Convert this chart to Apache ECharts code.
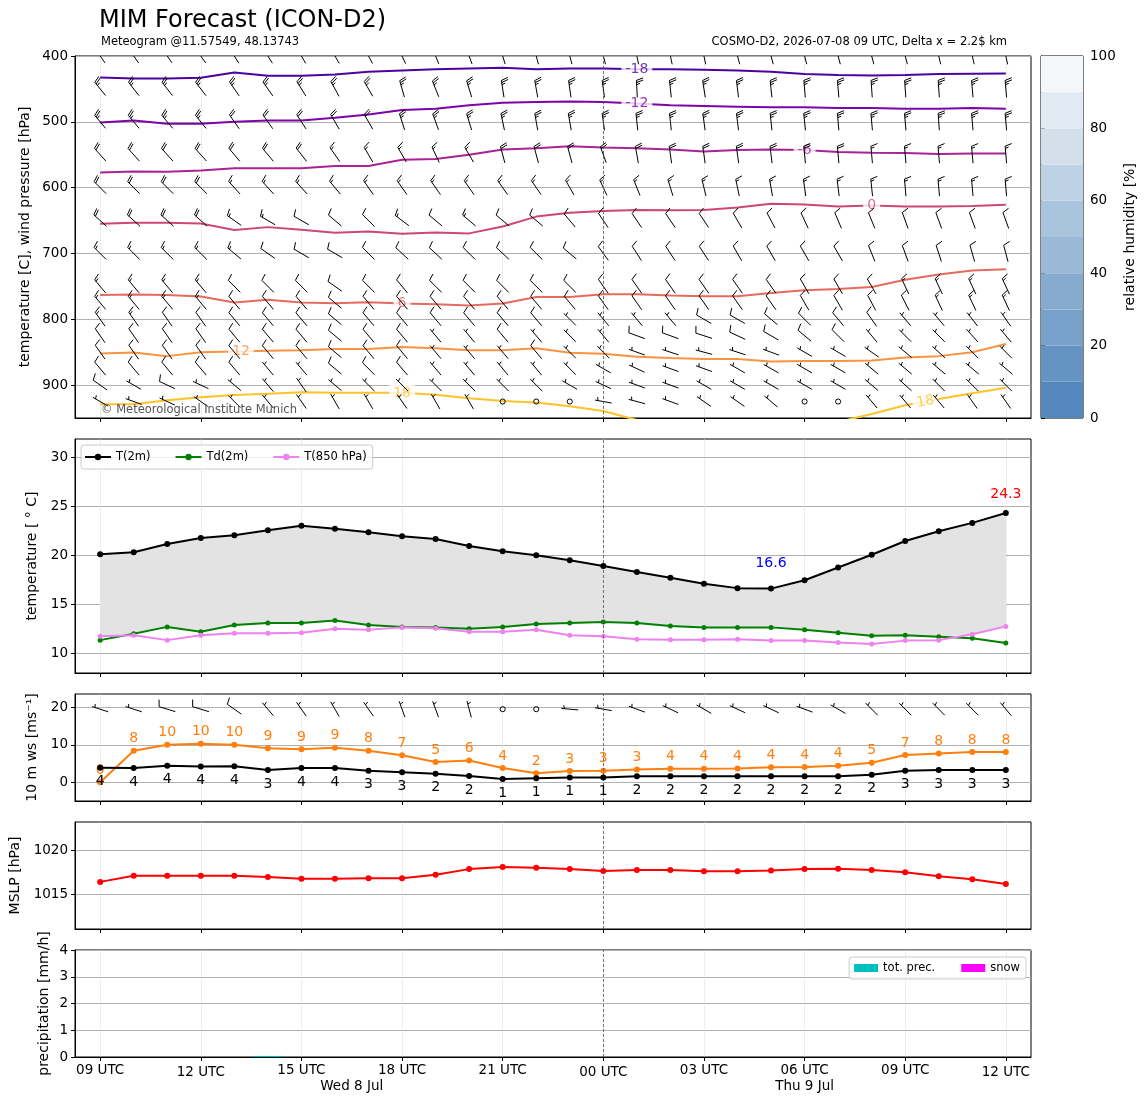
<!DOCTYPE html>
<html><head><meta charset="utf-8">
<script src="https://cdn.jsdelivr.net/npm/echarts@6/dist/echarts.min.js"></script>
<style>html,body{margin:0;padding:0;background:#fff}#c{width:1148px;height:1105px}</style>
</head><body><div id="c"></div>
<script>
// ---------------- data ----------------
const hourOfDay = [9,10,11,12,13,14,15,16,17,18,19,20,21,22,23,0,1,2,3,4,5,6,7,8,9,10,11,12];
const tickIdx = [0,3,6,9,12,15,18,21,24,27];
const dayLabelPos = [7.5, 21];
const dayLabels = ['Wed 8 Jul', 'Thu 9 Jul'];

const t2m  = [20.1,20.3,21.15,21.75,22.05,22.55,23.0,22.7,22.35,21.95,21.65,20.95,20.4,20.0,19.5,18.9,18.3,17.7,17.1,16.65,16.6,17.45,18.75,20.05,21.45,22.45,23.3,24.3];
const td2m = [11.35,12.0,12.7,12.2,12.9,13.1,13.1,13.35,12.9,12.7,12.65,12.5,12.7,13.0,13.1,13.2,13.1,12.8,12.65,12.65,12.65,12.4,12.1,11.8,11.85,11.7,11.55,11.05];
const t850 = [11.75,11.85,11.35,11.85,12.05,12.05,12.1,12.5,12.4,12.65,12.55,12.2,12.2,12.4,11.85,11.75,11.45,11.4,11.4,11.45,11.3,11.3,11.1,10.95,11.3,11.35,11.95,12.75];

const ws10   = [3.9,3.8,4.4,4.2,4.3,3.3,3.8,3.8,3.1,2.7,2.3,1.7,0.9,1.1,1.3,1.3,1.6,1.6,1.6,1.6,1.6,1.6,1.6,2.0,3.1,3.3,3.3,3.3];
const gust10 = [0,8.4,10.0,10.3,10.0,9.1,8.8,9.2,8.4,7.2,5.4,5.8,3.8,2.4,3.0,3.1,3.4,3.6,3.6,3.7,4.0,4.1,4.4,5.2,7.3,7.7,8.1,8.1];
const dir10  = [288,288,287,287,305,320,325,330,325,340,340,345,0,0,275,280,290,295,300,295,295,290,300,315,315,315,315,320];
const barb10 = [5,5,10,10,10,5,5,5,5,5,5,5,0,0,5,5,5,5,5,5,5,5,5,5,5,5,5,5];
const barb10Level = 19.5;

const mslp = [1016.4,1017.1,1017.1,1017.1,1017.1,1016.95,1016.75,1016.75,1016.8,1016.8,1017.2,1017.85,1018.1,1018.0,1017.85,1017.65,1017.75,1017.75,1017.6,1017.6,1017.7,1017.85,1017.9,1017.75,1017.5,1017.05,1016.7,1016.15];

const precip = [0,0,0,0,0,0.04,0,0,0,0,0,0,0,0,0,0,0,0,0,0,0,0,0,0,0,0,0,0];
const snow   = [0,0,0,0,0,0,0,0,0,0,0,0,0,0,0,0,0,0,0,0,0,0,0,0,0,0,0,0];

// isotherms: pressure [hPa] of each temperature contour per hour
const isoValues = [-18,-12,-6,0,6,12,18];
const isoColors = ['#4c02a1','#7e03a8','#a92395','#cc4778','#e56b5d','#f89441','#fdc328'];
const iso_m18 = [432.5,434,434,433,425,430,430,428,424,422,420,419,418,420,419,419,420,420,421,422,424,427.5,429,429.5,429,427.5,427,426.5];
const iso_m12 = [501,498,503,503,500,498,498,494,489,482,480,475,471,470,469,470,472,475,476,477,478,478,479,479,480,480,479,480];
const iso_m6  = [577,575.5,576,574,570.5,570.5,570.5,567,567,557.5,556.5,550,542,540,537,539,540,542,545,543,542,543,546,547,547.5,549,548,548];
const iso_0   = [655,653.5,653.5,654.5,664.5,660,664,668.5,666.5,670,668,669.5,659,644,638,635.5,634,634.5,634,630,624.5,625.5,628.5,627,628.5,628.5,628,626];
const iso_6   = [763,762.5,763,765.5,774.5,770.5,774.5,775.5,774,776,777,779,776,766,766,762,762,764,765,765,760,756,754,751,740,732,726,724];
const iso_12  = [852,850.5,856,850,849,848,847,845,845,842,844,847,847,844,851,852.5,857,859,860.5,860.5,864,863.5,863.5,862.5,858,856,850,837.5];
const iso_18  = [929,929,923,918.5,915,913,911,911.5,911.5,911.5,914.5,920,924,926.5,932,939.5,953,962,972,975,975,969,956,944,930.5,921,912.5,904];

const isoLabelX   = [16,16,21,23,9,4.2,9,24.6];
const isoLabelP   = [420,472,543,627,776,849,912,925];
const isoLabelIso = [0,1,2,3,4,5,6,6];
const isoLabelRot = [0,0,0,0,0,0,0,10];

// wind barbs on pressure levels: direction (deg, from) and speed (barb units)
const levels = [400,450,500,550,600,650,700,750,775,800,825,850,875,900,925];
const dir400 = [325,325,325,325,328,328,330,330,332,335,338,340,343,345,345,345,348,348,348,345,345,345,345,345,345,347,347,348];
const spd400 = [25,25,25,25,25,25,25,25,25,25,25,25,25,25,25,25,25,25,25,25,25,25,25,25,25,25,25,25];
const dir450 = [321,322,322,322,325,325,328,331,330,344,338,343,351,350,352,352,357,354,351,353,354,355,355,356,356,356,355,355];
const spd450 = [25,25,25,25,25,25,25,25,25,25,25,25,25,25,25,25,25,25,25,25,25,25,25,25,25,25,25,25];
const dir500 = [320,320,320,321,325,325,327,330,330,342,340,343,348,350,350,352,354,354,352,353,354,354,355,355,355,356,355,355];
const spd500 = [25,25,25,25,20,20,20,20,20,25,25,25,25,25,25,25,25,25,25,25,25,25,25,25,25,25,25,25];
const dir550 = [318,318,318,318,320,320,322,325,330,330,335,330,345,345,345,340,350,352,352,352,353,354,355,355,355,355,355,355];
const spd550 = [20,20,20,20,20,20,20,15,15,15,15,15,20,20,20,20,20,20,20,20,20,20,20,15,15,15,15,15];
const dir600 = [315,315,315,315,318,318,318,320,325,325,325,325,325,325,330,335,338,343,346,348,350,352,353,354,355,355,355,355];
const spd600 = [20,20,20,20,15,15,15,15,15,15,15,15,15,15,15,15,15,15,15,15,15,15,15,15,15,15,15,15];
const dir650 = [312,312,312,312,305,300,300,310,315,307,310,310,310,310,320,326,326,326,326,330,332,335,337,338,340,340,340,340];
const spd650 = [20,20,20,20,15,15,10,10,10,15,10,15,10,10,10,10,10,10,10,10,10,10,10,10,10,10,10,10];
const dir700 = [315,315,315,315,310,305,300,300,315,313,313,315,313,315,310,324,327,327,327,330,330,330,330,338,340,342,344,345];
const spd700 = [15,15,15,15,15,10,10,10,10,10,10,10,10,10,10,10,10,10,10,10,10,10,10,10,10,10,10,10];
const dir750 = [320,320,320,320,315,315,315,305,315,320,315,315,315,315,315,325,325,325,325,325,325,330,330,330,335,335,335,335];
const spd750 = [15,15,15,15,10,10,10,10,10,10,10,10,10,10,10,10,10,10,10,10,10,10,10,10,15,15,15,15];
const dir775 = [320,320,320,320,320,320,320,310,320,320,320,320,320,320,320,325,325,325,325,325,325,330,330,332,333,335,335,335];
const spd775 = [15,15,15,15,10,10,10,10,10,10,10,10,10,10,10,10,10,10,10,10,10,10,10,10,10,15,15,15];
const dir800 = [325,325,325,325,320,320,320,310,320,320,320,320,320,320,315,320,320,320,300,300,310,315,320,325,320,320,322,325];
const spd800 = [15,15,10,10,10,10,10,10,10,10,10,10,10,10,5,5,5,5,10,10,10,10,10,10,5,5,5,5];
const dir825 = [325,325,325,325,320,320,320,310,320,320,320,320,320,320,315,320,290,290,288,295,300,310,315,320,315,315,318,320];
const spd825 = [10,10,10,10,10,10,10,10,10,10,5,5,10,5,5,5,10,10,10,10,10,10,10,5,5,5,5,5];
const dir850 = [325,325,325,325,320,320,320,310,320,320,320,320,320,320,315,315,290,288,285,288,290,300,300,305,310,312,315,315];
const spd850 = [10,10,10,10,10,10,10,10,10,10,5,5,5,10,5,5,5,5,5,5,5,5,5,5,5,5,5,5];
const dir875 = [320,320,320,320,320,320,320,310,315,320,320,320,320,320,315,300,295,290,290,300,300,300,300,310,310,310,310,310];
const spd875 = [10,10,10,10,10,5,5,10,10,10,5,5,5,5,5,5,5,5,5,5,5,5,5,5,5,5,5,5];
const dir900 = [305,300,295,295,310,320,325,310,315,315,315,315,315,315,300,295,290,290,300,300,300,300,300,310,312,315,315,315];
const spd900 = [10,5,10,5,5,5,5,5,5,5,5,5,5,5,5,5,5,5,5,5,5,5,5,5,5,5,5,5];
const dir925 = [300,290,295,305,315,320,325,330,330,325,330,330,0,0,0,280,285,290,305,305,310,0,0,320,320,320,325,325];
const spd925 = [5,5,5,5,5,5,5,5,5,5,5,5,0,0,0,5,5,5,5,5,5,0,0,5,5,5,5,5];

// relative humidity colour bar
const rhBounds = [0,10,20,30,40,50,60,70,80,90,100];
const rhColors = ['#5487bb','#6694c2','#78a1c9','#87abcf','#9ab9d7','#a9c4dd','#bdd2e5','#d3e0ec','#e2eaf3','#f4f8fb'];
const rhTicks = [0,20,40,60,80,100];

// ---------------- helpers ----------------
const FONT = 'DejaVu Sans';
const windDir = [dir400,dir450,dir500,dir550,dir600,dir650,dir700,dir750,dir775,dir800,dir825,dir850,dir875,dir900,dir925];
const windSpd = [spd400,spd450,spd500,spd550,spd600,spd650,spd700,spd750,spd775,spd800,spd825,spd850,spd875,spd900,spd925];
const isoLines = [iso_m18,iso_m12,iso_m6,iso_0,iso_6,iso_12,iso_18];
const midnight = hourOfDay.indexOf(0);
const bandLow = td2m.map((v,i)=>Math.max(v, t850[i]));

const BARB_L = 17;
function barbEls(cx, cy, dir, spd) {
  const L = BARB_L, col = '#000';
  if (spd < 2.5) {
    return [{type:'circle', shape:{cx:cx, cy:cy, r:0.15*L}, style:{fill:'none', stroke:col, lineWidth:1}}];
  }
  const a = dir*Math.PI/180;
  const ox = Math.sin(a), oy = -Math.cos(a);
  const rx = -oy, ry = ox;
  const P = t => [cx + ox*(t - L/2), cy + oy*(t - L/2)];
  const fh = 0.4*L, fw = 0.25*L, sp = 0.125*L;
  let rem = Math.round(spd/5)*5;
  const nFlag = Math.floor(rem/50); rem -= nFlag*50;
  const nFull = Math.floor(rem/10); rem -= nFull*10;
  const half = rem >= 5;
  const st = {stroke:col, lineWidth:1, fill:'none'};
  const els = [];
  const p0 = P(0), p1 = P(L);
  els.push({type:'line', shape:{x1:p0[0], y1:p0[1], x2:p1[0], y2:p1[1]}, style:st});
  let off = L;
  for (let i=0;i<nFlag;i++) {
    const b = P(off), e = P(off-fw);
    const tip = [b[0]+rx*fh - ox*fw/2, b[1]+ry*fh - oy*fw/2];
    els.push({type:'polygon', shape:{points:[b,tip,e]}, style:{fill:col, stroke:col, lineWidth:1}});
    off -= fw + sp;
  }
  for (let i=0;i<nFull;i++) {
    const b = P(off);
    els.push({type:'line', shape:{x1:b[0], y1:b[1], x2:b[0]+rx*fh+ox*fw/2, y2:b[1]+ry*fh+oy*fw/2}, style:st});
    off -= sp;
  }
  if (half) {
    if (off === L) off -= 1.5*sp;
    const b = P(off);
    els.push({type:'line', shape:{x1:b[0], y1:b[1], x2:b[0]+rx*fh/2+ox*fw/4, y2:b[1]+ry*fh/2+oy*fw/4}, style:st});
  }
  return els;
}
function barbRender(params, api) {
  const c = api.coord([api.value(0), api.value(1)]);
  return {type:'group', children: barbEls(c[0], c[1], api.value(2), api.value(3))};
}

const midLine = {silent:true, symbol:['none','none'], label:{show:false},
  lineStyle:{color:'#555', type:[3,2], width:0.8}, data:[{xAxis: midnight}], animation:false};

function timeAxis(gi, showLabels) {
  return {
    type:'value', gridIndex:gi, min:-0.75, max:27.75,
    axisLine:{show:true, onZero:false, lineStyle:{color:'#000', width:1}},
    axisTick:{show:true, inside:false, length:4, customValues:tickIdx, lineStyle:{color:'#000', width:1}},
    axisLabel:{show:showLabels, customValues:tickIdx, margin:5, color:'#000',
      formatter: v => {
        const h = hourOfDay[Math.round(v)];
        const s = String(h).padStart(2,'0') + ' UTC';
        return (h % 12 === 0) ? '{l|' + s + '}' : '{n|' + s + '}';
      },
      rich:{ n:{fontSize:13.5, fontFamily:FONT, color:'#000', lineHeight:16},
             l:{fontSize:13.5, fontFamily:FONT, color:'#000', lineHeight:21} }
    },
    splitLine:{show:true, lineStyle:{color:'#d3d3d3', type:'dotted', width:0.8}}
  };
}
function valAxis(gi, min, max, ticks, name, nameGap, inverse) {
  return {
    type:'value', gridIndex:gi, min:min, max:max, inverse:!!inverse,
    name:name, nameLocation:'middle', nameGap:nameGap, nameMoveOverlap:false,
    nameTextStyle:{fontSize:14, fontFamily:FONT, color:'#000'},
    axisLine:{show:true, onZero:false, lineStyle:{color:'#000', width:1}},
    axisTick:{show:true, inside:false, length:4, customValues:ticks, lineStyle:{color:'#000'}},
    axisLabel:{show:true, customValues:ticks, margin:7, fontSize:13.5, fontFamily:FONT, color:'#000',
      formatter: v => String(v)},
    splitLine:{show:true, lineStyle:{color:'#b0b0b0', width:1}}
  };
}
function gridBox(o) {
  return Object.assign({show:true, borderColor:'#000', borderWidth:1, backgroundColor:'transparent',
    containLabel:false, outerBoundsMode:'none'}, o);
}

// ---------------- chart ----------------
const chart = echarts.init(document.getElementById('c'), null, {renderer:'canvas'});

const series = [];
// isotherm lines
isoLines.forEach((arr,k) => {
  const s = {type:'line', name:'iso'+isoValues[k], xAxisIndex:0, yAxisIndex:0,
    data: arr.map((p,i)=>[i,p]), symbol:'none', clip:true, silent:true, z:2,
    lineStyle:{color:isoColors[k], width:2}};
  if (k === 0) s.markLine = midLine;
  series.push(s);
});
// isotherm labels
series.push({type:'scatter', xAxisIndex:0, yAxisIndex:0, symbolSize:0.5, silent:true, z:3,
  itemStyle:{color:'rgba(0,0,0,0)'},
  data: isoLabelX.map((x,k)=>({value:[x, isoLabelP[k]],
    label:{show:true, position:'inside', formatter:String(isoValues[isoLabelIso[k]]),
      color:isoColors[isoLabelIso[k]], rotate:isoLabelRot[k], fontSize:14, fontFamily:FONT,
      backgroundColor:'#fff', padding:[1,4]}}))
});
// wind barbs on pressure levels
const barbData = [];
levels.forEach((lv,li) => windDir[li].forEach((d,i) => barbData.push([i, lv, d, windSpd[li][i]])));
series.push({type:'custom', xAxisIndex:0, yAxisIndex:0, data:barbData, clip:true, silent:true, z:4,
  renderItem: barbRender});

// panel 2: shaded band
series.push({type:'custom', xAxisIndex:1, yAxisIndex:1, data:[[0, t2m[0]]], clip:true, silent:true, z:1,
  renderItem: (params, api) => {
    const pts = [];
    t2m.forEach((v,i)=>pts.push(api.coord([i,v])));
    for (let i=bandLow.length-1;i>=0;i--) pts.push(api.coord([i,bandLow[i]]));
    return {type:'polygon', shape:{points:pts}, style:{fill:'#e3e3e3'}};
  }});
series.push({type:'line', name:'T(2m)', xAxisIndex:1, yAxisIndex:1, data:t2m.map((v,i)=>[i,v]),
  symbol:'circle', symbolSize:6, z:5, lineStyle:{color:'#000', width:2}, itemStyle:{color:'#000'},
  markLine: midLine,
  markPoint:{symbol:'circle', symbolSize:0.5, silent:true, itemStyle:{color:'rgba(0,0,0,0)'},
    label:{show:true, position:'inside', fontSize:14, fontFamily:FONT, formatter: p => Number(p.value).toFixed(1)},
    data:[{type:'max', valueDim:'y', label:{color:'#ff0000', offset:[0,-19]}},
          {type:'min', valueDim:'y', label:{color:'#0000ff', offset:[0,-25]}}]}
});
series.push({type:'line', name:'Td(2m)', xAxisIndex:1, yAxisIndex:1, data:td2m.map((v,i)=>[i,v]),
  symbol:'circle', symbolSize:5, z:4, lineStyle:{color:'#008000', width:2}, itemStyle:{color:'#008000'}});
series.push({type:'line', name:'T(850 hPa)', xAxisIndex:1, yAxisIndex:1, data:t850.map((v,i)=>[i,v]),
  symbol:'circle', symbolSize:5, z:4, lineStyle:{color:'#ee82ee', width:2}, itemStyle:{color:'#ee82ee'}});

// panel 3: 10 m wind
series.push({type:'line', name:'ws', xAxisIndex:2, yAxisIndex:2, data:ws10.map((v,i)=>[i,v]),
  symbol:'circle', symbolSize:6, z:5, lineStyle:{color:'#000', width:2}, itemStyle:{color:'#000'},
  markLine: midLine,
  label:{show:true, position:'bottom', distance:4, color:'#000', fontSize:14, fontFamily:FONT,
    formatter: p => String(Math.round(p.value[1]))}});
series.push({type:'line', name:'gust', xAxisIndex:2, yAxisIndex:2, data:gust10.map((v,i)=>[i,v]),
  symbol:'circle', symbolSize:6, z:4, lineStyle:{color:'#ff7f0e', width:2}, itemStyle:{color:'#ff7f0e'},
  label:{show:true, position:'top', distance:2, color:'#ff7f0e', fontSize:14, fontFamily:FONT,
    formatter: p => String(Math.round(p.value[1]))}});
series.push({type:'custom', xAxisIndex:2, yAxisIndex:2, clip:true, silent:true, z:4,
  data: dir10.map((d,i)=>[i, barb10Level, d, barb10[i]]), renderItem: barbRender});

// panel 4: MSLP
series.push({type:'line', name:'MSLP', xAxisIndex:3, yAxisIndex:3, data:mslp.map((v,i)=>[i,v]),
  symbol:'circle', symbolSize:6, z:4, lineStyle:{color:'#ff0000', width:2}, itemStyle:{color:'#ff0000'},
  markLine: midLine});

// panel 5: precipitation
series.push({type:'bar', name:'tot. prec.', xAxisIndex:4, yAxisIndex:4, data:precip.map((v,i)=>[i,v]),
  barWidth:30, barGap:'-100%', itemStyle:{color:'#00bfbf'}, z:3, markLine: midLine});
series.push({type:'bar', name:'snow', xAxisIndex:4, yAxisIndex:4, data:snow.map((v,i)=>[i,v]),
  barWidth:30, barGap:'-100%', itemStyle:{color:'#ff00ff'}, z:3});

// colour bar
series.push({type:'custom', xAxisIndex:6, yAxisIndex:5, silent:true, clip:true, z:2,
  data: rhColors.map((c,i)=>[0, rhBounds[i], rhBounds[i+1], i]),
  renderItem: (params, api) => {
    const a = api.coord([0, api.value(2)]);
    const b = api.coord([1, api.value(1)]);
    return {type:'rect', shape:{x:a[0], y:a[1], width:b[0]-a[0], height:b[1]-a[1]},
      style:{fill: rhColors[api.value(3)], stroke:null}};
  }});

const xAxes = [timeAxis(0,false), timeAxis(1,false), timeAxis(2,false), timeAxis(3,false), timeAxis(4,true)];
// day labels (extra axis on bottom panel)
xAxes.push({type:'value', gridIndex:4, position:'bottom', min:-0.75, max:27.75,
  axisLine:{show:false}, axisTick:{show:false}, splitLine:{show:false},
  axisLabel:{show:true, customValues:dayLabelPos, margin:21, color:'#000', fontSize:13.5, fontFamily:FONT, lineHeight:16,
    formatter: v => dayLabels[dayLabelPos.indexOf(v)] || ''}});
// colour bar x axis
xAxes.push({type:'value', gridIndex:5, min:0, max:1, show:false});

const yAxes = [
  valAxis(0, 400, 950, [400,500,600,700,800,900], 'temperature [C], wind pressure [hPa]', 43, true),
  valAxis(1, 8, 31.85, [10,15,20,25,30], 'temperature [ ° C]', 36),
  valAxis(2, -5, 23.55, [0,10,20], '10 m ws [ms⁻¹]', 36),
  valAxis(3, 1011.05, 1023.2, [1015,1020], 'MSLP [hPa]', 53),
  valAxis(4, 0, 4, [0,1,2,3,4], 'precipitation [mm/h]', 24),
  {type:'value', gridIndex:5, min:0, max:100, position:'right',
    name:'relative humidity [%]', nameLocation:'middle', nameGap:40, nameRotate:90, nameMoveOverlap:false,
    nameTextStyle:{fontSize:14, fontFamily:FONT, color:'#000'},
    axisLine:{show:true, lineStyle:{color:'#000'}},
    axisTick:{show:true, inside:false, length:4, customValues:rhTicks, lineStyle:{color:'#000'}},
    axisLabel:{show:true, customValues:rhTicks, margin:7, fontSize:13.5, fontFamily:FONT, color:'#000',
      formatter: v => String(v)},
    splitLine:{show:false}}
];

chart.setOption({
  animation:false,
  backgroundColor:'#fff',
  textStyle:{fontFamily:FONT},
  grid:[
    gridBox({left:75, right:117, top:56, height:362}),
    gridBox({left:75, right:117, top:439, height:234}),
    gridBox({left:75, right:117, top:694, height:107}),
    gridBox({left:75, right:117, top:822, height:107}),
    gridBox({left:75, right:117, top:950, height:107}),
    gridBox({left:1041, width:42, top:56, height:362})
  ],
  xAxis: xAxes,
  yAxis: yAxes,
  legend:[
    {data:['T(2m)','Td(2m)','T(850 hPa)'], left:81, top:445, orient:'horizontal',
     itemWidth:26, itemHeight:8, itemGap:24, padding:[6,6,6,3],
     borderColor:'#cccccc', borderWidth:1, borderRadius:3, backgroundColor:'rgba(255,255,255,0.8)',
     textStyle:{fontSize:11.5, fontFamily:FONT, color:'#000'}, selectedMode:false},
    {data:[{name:'tot. prec.', icon:'rect'},{name:'snow', icon:'rect'}], right:122, top:957, orient:'horizontal',
     itemWidth:24, itemHeight:8, itemGap:26, padding:[5,6,5,5],
     borderColor:'#cccccc', borderWidth:1, borderRadius:3, backgroundColor:'rgba(255,255,255,0.8)',
     textStyle:{fontSize:11.5, fontFamily:FONT, color:'#000'}, selectedMode:false}
  ],
  graphic:[
    {type:'text', x:99, y:21, z:10, style:{text:'MIM Forecast (ICON-D2)', fontSize:24, fontFamily:FONT, fill:'#000', align:'left', verticalAlign:'middle'}},
    {type:'text', x:101, y:42, z:10, style:{text:'Meteogram @11.57549, 48.13743', fontSize:11.5, fontFamily:FONT, fill:'#000', align:'left', verticalAlign:'middle'}},
    {type:'text', x:1007, y:42, z:10, style:{text:'COSMO-D2, 2026-07-08 09 UTC, Delta x = 2.2$ km', fontSize:11.5, fontFamily:FONT, fill:'#000', align:'right', verticalAlign:'middle'}},
    {type:'text', x:101, y:410, z:10, style:{text:'© Meteorological Institute Munich', fontSize:11.5, fontFamily:FONT, fill:'#555', align:'left', verticalAlign:'middle'}}
  ],
  series: series
});
</script>
</body></html>
